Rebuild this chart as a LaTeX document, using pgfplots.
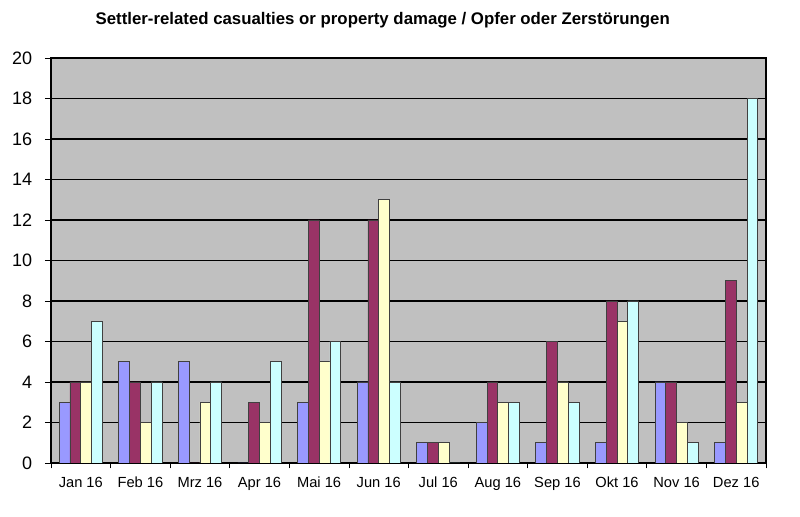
\documentclass[border=0pt]{standalone}
\usepackage{pgfplots}
\pgfplotsset{compat=1.18}
\usepackage{fontspec}
\setmainfont{Liberation Sans}
\definecolor{serA}{HTML}{9999FF}
\definecolor{serB}{HTML}{993366}
\definecolor{serC}{HTML}{FFFFCC}
\definecolor{serD}{HTML}{CCFFFF}
\definecolor{plotbg}{HTML}{C0C0C0}
\begin{document}
\begin{tikzpicture}
\path[use as bounding box] (-38.25pt,-40.5pt) rectangle (561.75pt,347.25pt);
\begin{axis}[
  at={(0,0)}, anchor=south west,
  scale only axis, width=536.25pt, height=303.75pt,
  ybar=0pt, bar width=8.1pt,
  xmin=-0.5, xmax=11.5, ymin=0, ymax=20,
  xtick={0,...,11},
  xticklabels={Jan 16,Feb 16,Mrz 16,Apr 16,Mai 16,Jun 16,Jul 16,Aug 16,Sep 16,Okt 16,Nov 16,Dez 16},
  minor xtick={-0.5,0.5,...,11.5},
  ytick={0,2,...,20},
  xtick pos=bottom, ytick pos=left,
  tick align=outside,
  major tick length=4.5pt, minor tick length=4pt,
  x tick style={draw=none},
  minor x tick style={draw=black, line width=0.6pt},
  y tick style={draw=black, line width=0.6pt},
  ymajorgrids, major grid style={black, line width=0.8pt},
  axis background/.style={fill=plotbg},
  axis line style={black, line width=1.1pt},
  /pgf/number format/assume math mode=true,
  yticklabel style={font=\fontsize{13.5pt}{16pt}\selectfont, anchor=east, inner sep=0pt, xshift=-9.5pt},
  xticklabel style={font=\fontsize{11pt}{13pt}\selectfont, anchor=north, inner sep=0pt, yshift=-6pt},
  title={Settler-related casualties or property damage / Opfer oder Zerstörungen},
  title style={font=\bfseries\fontsize{12.6pt}{14pt}\selectfont, at={(0.464,1)}, anchor=base, yshift=18.75pt},
  every axis plot/.append style={draw=black!75, line width=0.6pt},
]
\addplot[fill=serA] coordinates {(0,3) (1,5) (2,5) (3,0) (4,3) (5,4) (6,1) (7,2) (8,1) (9,1) (10,4) (11,1)};
\addplot[fill=serB] coordinates {(0,4) (1,4) (2,0) (3,3) (4,12) (5,12) (6,1) (7,4) (8,6) (9,8) (10,4) (11,9)};
\addplot[fill=serC] coordinates {(0,4) (1,2) (2,3) (3,2) (4,5) (5,13) (6,1) (7,3) (8,4) (9,7) (10,2) (11,3)};
\addplot[fill=serD] coordinates {(0,7) (1,4) (2,4) (3,5) (4,6) (5,4) (6,0) (7,3) (8,3) (9,8) (10,1) (11,18)};
\end{axis}
\end{tikzpicture}
\end{document}
